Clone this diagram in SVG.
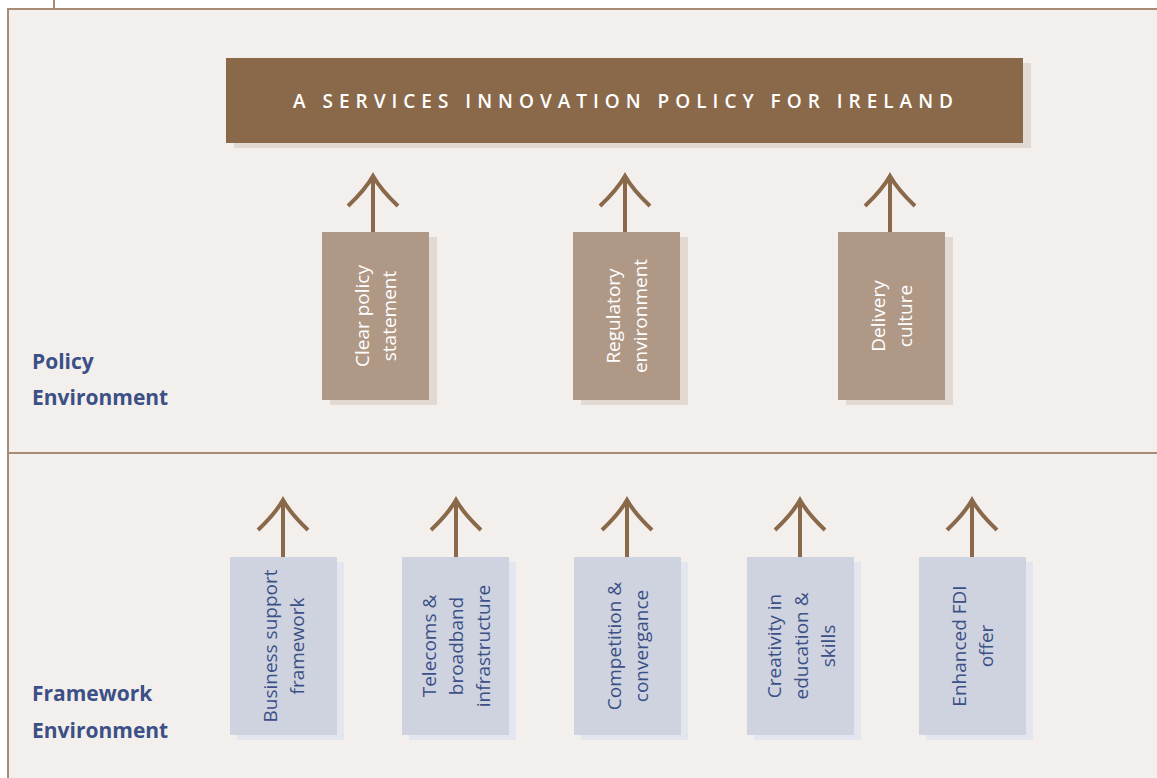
<svg xmlns="http://www.w3.org/2000/svg" width="1157" height="778" viewBox="0 0 1157 778">
<style>
.bg{fill:#f3efec}
.frame{fill:none;stroke:#a68b76;stroke-width:2}
.arrow{fill:none;stroke:#8a694b;stroke-width:4}
.pb{fill:#b09886}
.ps{fill:#e2d9d3}
.fb{fill:#cfd3df}
.fs{fill:#e3e6ee}
.pt{font-family:"Open Sans","Liberation Sans",sans-serif;font-size:19px;fill:#ffffff;text-anchor:middle}
.ft{font-family:"Open Sans","Liberation Sans",sans-serif;font-size:19px;fill:#3b5086;text-anchor:middle}
.lab{font-family:"Open Sans","Liberation Sans",sans-serif;font-size:21px;font-weight:bold;fill:#3b5086}
.title{font-family:"Open Sans","Liberation Sans",sans-serif;font-size:19px;font-weight:600;fill:#ffffff}
</style>
<defs>
<path id="ah" d="M-25,30 Q-8,14 0,0 Q8,14 25,30"/>
</defs>
<rect x="0" y="0" width="1157" height="778" fill="#ffffff"/>
<rect class="bg" x="8" y="9" width="1149" height="769"/>
<g id="frame">
<line class="frame" x1="54" y1="0" x2="54" y2="9"/>
<polyline class="frame" points="8,778 8,9 1157,9"/>
<line class="frame" x1="8" y1="453" x2="1157" y2="453"/>
</g>
<g id="title">
<rect fill="#e2d9d3" x="234" y="63" width="797" height="85"/>
<rect fill="#8a694b" x="226" y="58" width="797" height="85"/>
<text class="title" x="293" y="108" textLength="660" lengthAdjust="spacing">A SERVICES INNOVATION POLICY FOR IRELAND</text>
</g>
<g id="labels">
<text class="lab" x="32" y="369">Policy</text>
<text class="lab" x="32" y="405">Environment</text>
<text class="lab" x="32" y="701">Framework</text>
<text class="lab" x="32" y="738">Environment</text>
</g>
<g id="connectors">
<line class="arrow" x1="373" y1="232" x2="373" y2="179"/>
<use href="#ah" class="arrow" x="373" y="176"/>
<line class="arrow" x1="625" y1="232" x2="625" y2="179"/>
<use href="#ah" class="arrow" x="625" y="176"/>
<line class="arrow" x1="890" y1="232" x2="890" y2="179"/>
<use href="#ah" class="arrow" x="890" y="176"/>
<line class="arrow" x1="283" y1="557" x2="283" y2="503"/>
<use href="#ah" class="arrow" x="283" y="500"/>
<line class="arrow" x1="456" y1="557" x2="456" y2="503"/>
<use href="#ah" class="arrow" x="456" y="500"/>
<line class="arrow" x1="627" y1="557" x2="627" y2="503"/>
<use href="#ah" class="arrow" x="627" y="500"/>
<line class="arrow" x1="800" y1="557" x2="800" y2="503"/>
<use href="#ah" class="arrow" x="800" y="500"/>
<line class="arrow" x1="972" y1="557" x2="972" y2="503"/>
<use href="#ah" class="arrow" x="972" y="500"/>
</g>
<g id="p1">
<rect class="ps" x="330" y="237" width="107" height="168"/>
<rect class="pb" x="322" y="232" width="107" height="168"/>
<text class="pt" transform="translate(375.5,316) rotate(-90)"><tspan x="0" y="-7">Clear policy</tspan><tspan x="0" y="20">statement</tspan></text>
</g>
<g id="p2">
<rect class="ps" x="581" y="237" width="107" height="168"/>
<rect class="pb" x="573" y="232" width="107" height="168"/>
<text class="pt" transform="translate(626.5,316) rotate(-90)"><tspan x="0" y="-7">Regulatory</tspan><tspan x="0" y="20">environment</tspan></text>
</g>
<g id="p3">
<rect class="ps" x="846" y="237" width="107" height="168"/>
<rect class="pb" x="838" y="232" width="107" height="168"/>
<text class="pt" transform="translate(891.5,316) rotate(-90)"><tspan x="0" y="-7">Delivery</tspan><tspan x="0" y="20">culture</tspan></text>
</g>
<g id="f1">
<rect class="fs" x="237" y="562" width="107" height="178"/>
<rect class="fb" x="230" y="557" width="107" height="178"/>
<text class="ft" transform="translate(283.5,646) rotate(-90)"><tspan x="0" y="-7">Business support</tspan><tspan x="0" y="20">framework</tspan></text>
</g>
<g id="f2">
<rect class="fs" x="409" y="562" width="107" height="178"/>
<rect class="fb" x="402" y="557" width="107" height="178"/>
<text class="ft" transform="translate(455.5,646) rotate(-90)"><tspan x="0" y="-20">Telecoms &amp;</tspan><tspan x="0" y="7">broadband</tspan><tspan x="0" y="34">infrastructure</tspan></text>
</g>
<g id="f3">
<rect class="fs" x="581" y="562" width="107" height="178"/>
<rect class="fb" x="574" y="557" width="107" height="178"/>
<text class="ft" transform="translate(627.5,646) rotate(-90)"><tspan x="0" y="-7">Competition &amp;</tspan><tspan x="0" y="20">convergance</tspan></text>
</g>
<g id="f4">
<rect class="fs" x="754" y="562" width="107" height="178"/>
<rect class="fb" x="747" y="557" width="107" height="178"/>
<text class="ft" transform="translate(800.5,646) rotate(-90)"><tspan x="0" y="-20">Creativity in</tspan><tspan x="0" y="7">education &amp;</tspan><tspan x="0" y="34">skills</tspan></text>
</g>
<g id="f5">
<rect class="fs" x="926" y="562" width="107" height="178"/>
<rect class="fb" x="919" y="557" width="107" height="178"/>
<text class="ft" transform="translate(972.5,646) rotate(-90)"><tspan x="0" y="-7">Enhanced FDI</tspan><tspan x="0" y="20">offer</tspan></text>
</g>
</svg>
